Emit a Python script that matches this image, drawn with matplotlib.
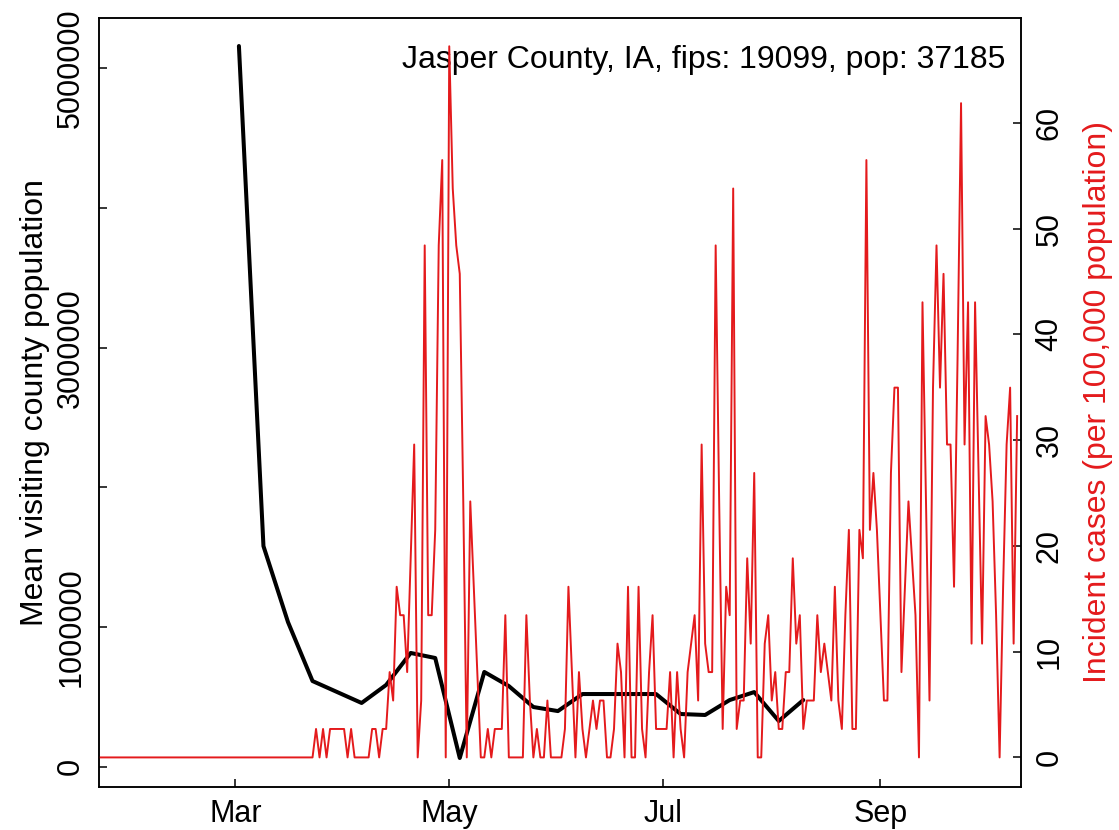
import numpy as np
import pandas as pd
import matplotlib
matplotlib.use("Agg")
import matplotlib.pyplot as plt

plt.rcParams['font.family'] = ['Liberation Sans', 'DejaVu Sans']

title_text = "Jasper County, IA, fips: 19099, pop: 37185"
population = 37185

# daily incident cases (counts), one value per day from 2020-01-22
case_start = "2020-01-22"
daily_cases = [
    0, 0, 0, 0, 0, 0, 0, 0, 0, 0, 0, 0, 0, 0, 0, 0, 0, 0, 0, 0,
    0, 0, 0, 0, 0, 0, 0, 0, 0, 0, 0, 0, 0, 0, 0, 0, 0, 0, 0, 0,
    0, 0, 0, 0, 0, 0, 0, 0, 0, 0, 0, 0, 0, 0, 0, 0, 0, 0, 0, 0,
    0, 0, 1, 0, 1, 0, 1, 1, 1, 1, 1, 0, 1, 0, 0, 0, 0, 0, 1, 1,
    0, 1, 1, 3, 2, 6, 5, 5, 3, 7, 11, 0, 2, 18, 5, 5, 8, 18, 21, 0,
    25, 20, 18, 17, 9, 0, 9, 6, 3, 0, 0, 1, 0, 1, 1, 1, 5, 0, 0, 0,
    0, 0, 5, 2, 0, 1, 0, 0, 2, 0, 0, 0, 0, 1, 6, 3, 0, 3, 1, 0,
    1, 2, 1, 2, 2, 0, 0, 1, 4, 3, 0, 6, 0, 0, 6, 1, 0, 3, 5, 1,
    1, 1, 1, 3, 0, 3, 1, 0, 3, 4, 5, 2, 11, 4, 3, 3, 18, 9, 1, 6,
    5, 20, 1, 2, 2, 7, 4, 10, 0, 0, 4, 5, 2, 3, 1, 1, 3, 3, 7, 4,
    5, 1, 2, 2, 2, 5, 3, 4, 3, 2, 6, 2, 1, 5, 8, 1, 1, 8, 7, 21,
    8, 10, 8, 5, 2, 2, 10, 13, 13, 3, 6, 9, 7, 5, 0, 16, 9, 2, 13, 18,
    13, 17, 11, 11, 6, 14, 23, 11, 16, 4, 16, 10, 4, 12, 11, 9, 5, 0, 6, 11,
    13, 4, 12,
]

# weekly mean visiting county population
visit_dates = ["2020-03-02", "2020-03-09", "2020-03-16", "2020-03-23",
               "2020-04-06", "2020-04-13", "2020-04-20", "2020-04-27",
               "2020-05-04", "2020-05-11", "2020-05-18", "2020-05-25",
               "2020-06-01", "2020-06-08", "2020-06-29", "2020-07-06",
               "2020-07-13", "2020-07-20", "2020-07-27", "2020-08-03",
               "2020-08-10"]
visit_pop = [5160000, 1580000, 1036000, 614000,
             457000, 586000, 815000, 779000,
             63000, 679000, 578000, 428000,
             399000, 521000, 521000, 378000,
             371000, 478000, 535000, 328000,
             478000]

month_ticks = ["2020-03-01", "2020-05-01", "2020-07-01", "2020-09-01"]
month_labels = ["Mar", "May", "Jul", "Sep"]
left_ticks = [0, 1000000, 2000000, 3000000, 4000000, 5000000]
left_labels = ["0", "1000000", "", "3000000", "", "5000000"]
right_ticks = [0, 10, 20, 30, 40, 50, 60]

case_dates = pd.date_range(case_start, periods=len(daily_cases), freq="D")
incidence = np.array(daily_cases) / population * 1e5
visit_dates = pd.to_datetime(visit_dates)

fig = plt.figure(figsize=(11.19, 8.30), dpi=100)
ax = fig.add_axes([0.0882, 0.0524, 0.8239, 0.9265])

ax.plot(visit_dates, visit_pop, color="black", lw=2.9,
        solid_joinstyle="round", solid_capstyle="round")
ax.set_xlim(pd.Timestamp("2020-01-22"), pd.Timestamp("2020-10-11"))
ax.set_ylim(-141000, 5364000)
ax.set_xticks(pd.to_datetime(month_ticks))
ax.set_xticklabels(month_labels)
ax.set_yticks(left_ticks)
ax.set_yticklabels(left_labels, rotation=90, va="center")
ax.tick_params(axis="both", direction="in", length=6, width=1.1,
               labelsize=22, pad=9)
ax.set_ylabel("Mean visiting county population", fontsize=23)
ax.yaxis.set_label_coords(-0.053, 0.5)

ax2 = ax.twinx()
ax2.plot(case_dates, incidence, color="#E41A1C", lw=1.4)
ax2.set_ylim(-2.75, 69.95)
ax2.set_yticks(right_ticks)
ax2.set_yticklabels([str(t) for t in right_ticks], rotation=90, va="center")
ax2.tick_params(axis="y", direction="in", length=6, width=1.1,
                labelsize=22, pad=10)
ax2.set_ylabel("Incident cases (per 100,000 population)", color="#E41A1C",
               fontsize=23, rotation=90)
ax2.yaxis.set_label_coords(1.068, 0.5)

for a in (ax, ax2):
    for s in a.spines.values():
        s.set_linewidth(1.1)

ax.text(0.983, 0.945, title_text, transform=ax.transAxes,
        ha="right", va="center", fontsize=23)

fig.savefig("out.png", dpi=100)
